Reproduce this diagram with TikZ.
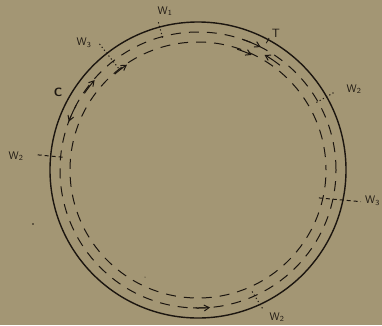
\documentclass[tikz,border=0pt]{standalone}
\usetikzlibrary{arrows.meta}
\definecolor{paper}{RGB}{163,150,116}
\definecolor{ink}{RGB}{28,22,16}
\tikzset{
  lbl/.style={font=\sffamily\fontsize{11}{13}\selectfont, text=ink, inner sep=0pt},
  flow/.style={draw=ink, line width=1pt, dash pattern=on 10pt off 8pt},
  flowarrow/.style={draw=ink, line width=1pt, -{Straight Barb[length=5pt,width=6pt]}},
  wdot/.style={draw=ink, line width=1pt, dash pattern=on 1.2pt off 2.5pt},
  wdash/.style={draw=ink, line width=1pt, dash pattern=on 4pt off 3pt},
}
\begin{document}
\begin{tikzpicture}[x=1pt,y=1pt]
\fill[paper] (0,-325) rectangle (382,0);
\useasboundingbox (0,-325) rectangle (382,0);
\begin{scope}[shift={(198,-170)}]
  % pipe wall
  \draw[ink, line width=1.4pt] (0,0) circle[radius=148pt];
  % flow lines
  \draw[flow] (0,0) circle[radius=138pt];
  \draw[flow, dash phase=5pt] (0,0) circle[radius=128pt];
  % arrows
  \draw[flowarrow] (71:138) arc[start angle=71, end angle=63, radius=138pt];
  \draw[flowarrow] (52:133) arc[start angle=52, end angle=60, radius=133pt];
  \draw[flowarrow] (72:127) arc[start angle=72, end angle=65, radius=127pt];
  \draw[flowarrow] (131:127) arc[start angle=131, end angle=124, radius=127pt];
  \draw[flowarrow] (146:137) arc[start angle=146, end angle=139, radius=137pt];
  \draw[flowarrow] (152:138) arc[start angle=152, end angle=159.5, radius=138pt];
  \draw[flowarrow] (-92:138) arc[start angle=-92, end angle=-85, radius=138pt];
  % T mark
  \draw[ink, line width=0.8pt] (61.7:144) -- (61.7:150);
  % W lines
  \coordinate (w1a) at (105:153); \coordinate (w1b) at (105:137);
  \draw[wdot] (w1a) -- (w1b);
  \coordinate (w3a) at (128:160); \coordinate (w3b) at (128:128);
  \draw[wdot] (w3a) -- (w3b);
  \coordinate (w2la) at (174.6:161); \coordinate (w2lb) at (174.6:135);
  \draw[wdash] (w2la) -- (w2lb);
  \coordinate (w2ra) at (29.7:156); \coordinate (w2rb) at (29.7:135);
  \draw[wdot] (w2ra) -- (w2rb);
  \coordinate (w3ra) at (-13:124); \coordinate (w3rb) at (-11:166);
  \draw[wdash] (w3ra) -- (w3rb);
  \coordinate (w2ba) at (-66:133); \coordinate (w2bb) at (-65:153);
  \draw[wdot] (w2ba) -- (w2bb);
\end{scope}
% labels
\node[lbl] (W1) at (165,-11) {W\textsubscript{1}};
\node[lbl] (W3a) at (84,-43) {W\textsubscript{3}};
\node[lbl] (W2a) at (16,-156) {W\textsubscript{2}};
\node[lbl] (W2b) at (354,-89) {W\textsubscript{2}};
\node[lbl, anchor=west] (W3b) at (365,-201) {W\textsubscript{3}};
\node[lbl] (W2c) at (277,-317) {W\textsubscript{2}};
\node[lbl, font=\sffamily\bfseries\fontsize{12}{14}\selectfont] (C) at (58,-92) {C};
\node[lbl, font=\sffamily\fontsize{12}{14}\selectfont] (T) at (276,-33) {T};
% stray marks
\fill[ink] (33,-224) circle[radius=0.9pt];
\fill[ink] (145,-277) circle[radius=0.5pt];
\end{tikzpicture}
\end{document}
